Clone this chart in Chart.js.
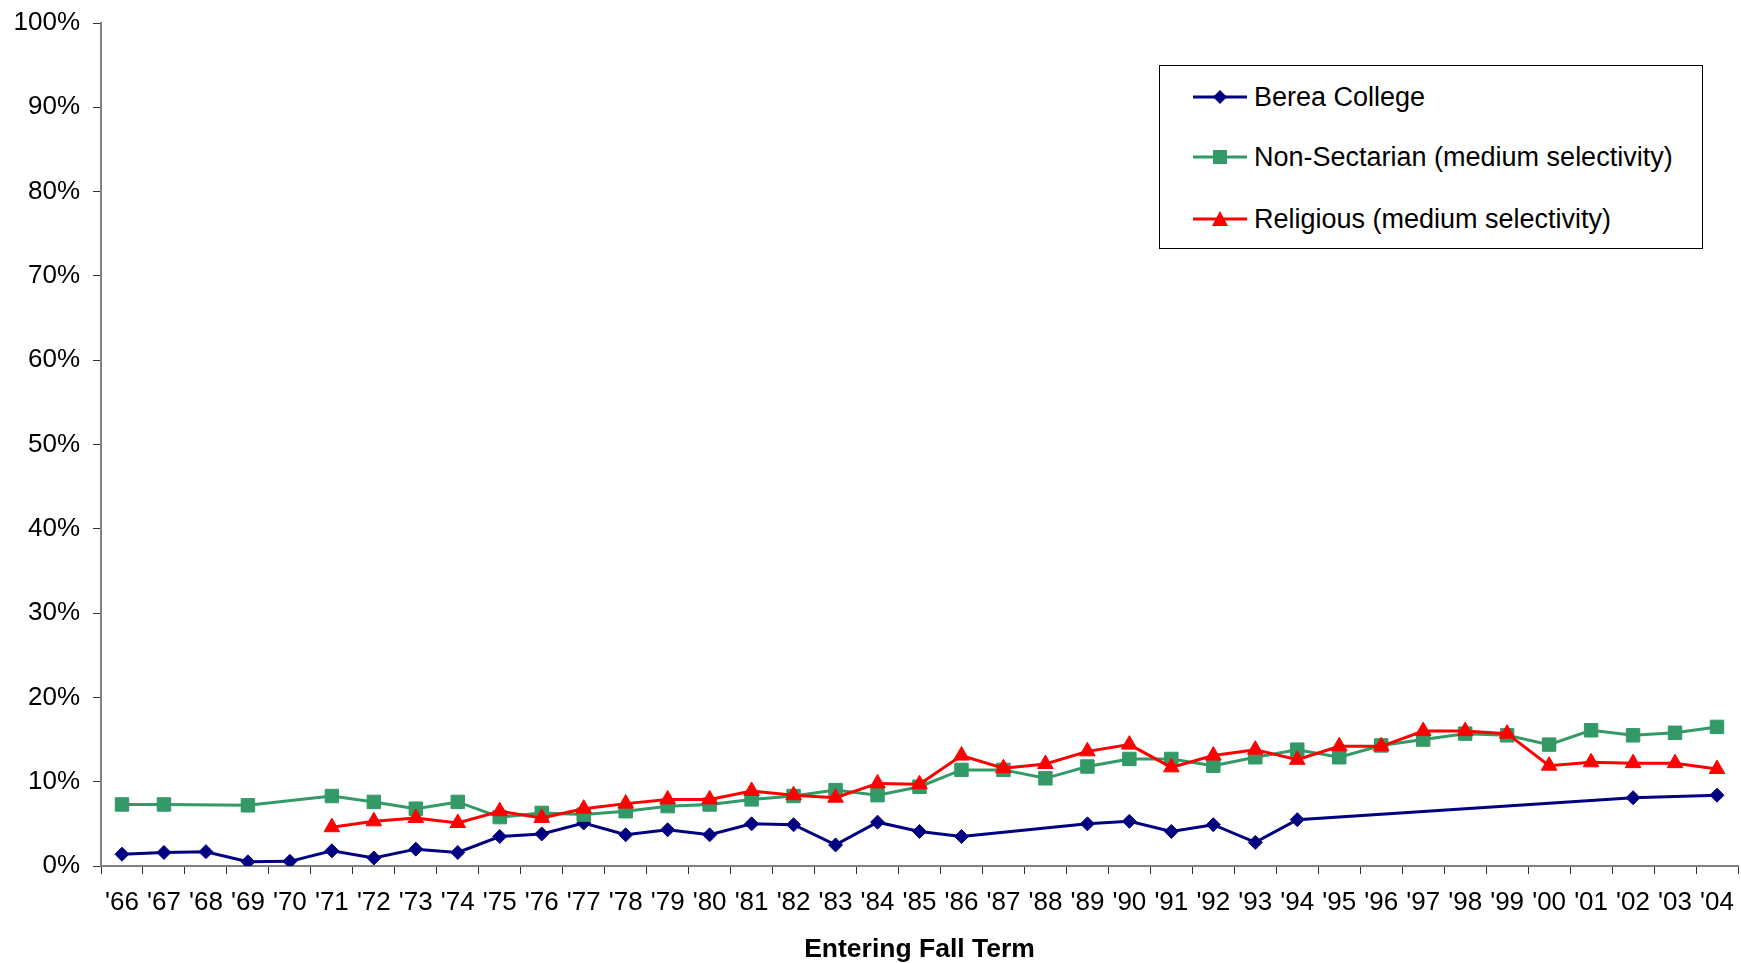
<!DOCTYPE html>
<html>
<head>
<meta charset="utf-8">
<title>Entering Fall Term</title>
<script src="https://cdn.jsdelivr.net/npm/chart.js@4.4.0/dist/chart.umd.min.js"></script>
<style>
  html, body { margin: 0; padding: 0; background: #fff; }
  #wrap { position: relative; width: 1741px; height: 963px; }
  #legend {
    position: absolute; left: 1159px; top: 65px; width: 544px; height: 184px;
    box-sizing: border-box; border: 1px solid #000; background: #fff;
    font-family: 'Liberation Sans', Arial, sans-serif; font-size: 27px; color: #000;
  }
  .row { position: absolute; left: 0; height: 30px; display: flex; align-items: center; white-space: nowrap; }
  .row svg { margin-left: 32px; margin-right: 6px; }
</style>
</head>
<body>
<div id="wrap">
  <canvas id="chart" width="1741" height="963"></canvas>
  <div id="legend">
    <div class="row" style="top:16px">
      <svg width="56" height="30"><line x1="1" y1="15" x2="55" y2="15" stroke="#000080" stroke-width="3"/><polygon points="21,15 28,8 35,15 28,22" fill="#000080"/></svg>
      <span>Berea College</span>
    </div>
    <div class="row" style="top:76px">
      <svg width="56" height="30"><line x1="1" y1="15" x2="55" y2="15" stroke="#339966" stroke-width="3"/><rect x="21" y="8" width="14" height="14" fill="#339966"/></svg>
      <span>Non-Sectarian (medium selectivity)</span>
    </div>
    <div class="row" style="top:138px">
      <svg width="56" height="30"><line x1="1" y1="15" x2="55" y2="15" stroke="#ff0000" stroke-width="3"/><polygon points="28,7 36,22 20,22" fill="#ff0000"/></svg>
      <span>Religious (medium selectivity)</span>
    </div>
  </div>
</div>
<script>
// entering fall term, one label per year
const years = ["'66", "'67", "'68", "'69", "'70", "'71", "'72", "'73", "'74", "'75",
  "'76", "'77", "'78", "'79", "'80", "'81", "'82", "'83", "'84", "'85",
  "'86", "'87", "'88", "'89", "'90", "'91", "'92", "'93", "'94", "'95",
  "'96", "'97", "'98", "'99", "'00", "'01", "'02", "'03", "'04"];

// percentages (null = no value that year)
const bereaPct = [1.4, 1.6, 1.7, 0.5, 0.55, 1.8, 0.95, 2.0, 1.6, 3.5,
  3.8, 5.1, 3.7, 4.3, 3.7, 5.0, 4.9, 2.5, 5.2, 4.1,
  3.5, null, null, 5.0, 5.3, 4.1, 4.9, 2.8, 5.5, null,
  null, null, null, null, null, null, 8.1, null, 8.4];

const nonSectarianPct = [7.3, 7.3, null, 7.2, null, 8.3, 7.6, 6.8, 7.6, 5.8,
  6.3, 6.1, 6.5, 7.1, 7.3, 7.9, 8.3, 9.0, 8.4, 9.4,
  11.4, 11.4, 10.4, 11.8, 12.7, 12.7, 11.9, 12.9, 13.8, 12.9,
  14.3, 15.0, 15.7, 15.5, 14.4, 16.1, 15.5, 15.8, 16.5];

const religiousPct = [null, null, null, null, null, 4.6, 5.3, 5.7, 5.1, 6.5,
  5.7, 6.8, 7.4, 7.9, 7.9, 8.9, 8.4, 8.1, 9.8, 9.7,
  13.1, 11.6, 12.1, 13.6, 14.4, 11.7, 13.1, 13.8, 12.6, 14.2,
  14.2, 16.0, 16.0, 15.7, 11.9, 12.3, 12.2, 12.2, 11.5];

const fontFamily = "'Liberation Sans', Arial, sans-serif";

// build one line series with its marker
function makeSeries(label, values, color, style, radius, order) {
  return {
    label: label,
    data: values,
    borderColor: color,
    backgroundColor: color,
    borderWidth: 3,
    pointStyle: style,
    pointRadius: radius,
    pointBorderWidth: 1,
    pointBorderColor: color,
    pointBackgroundColor: color,
    spanGaps: true,
    tension: 0,
    order: order,
  };
}

const ctx = document.getElementById("chart").getContext("2d");

new Chart(ctx, {
  type: "line",
  data: {
    labels: years,
    datasets: [
      makeSeries("Berea College", bereaPct, "#000080", "rectRot", 7, 2),
      makeSeries("Non-Sectarian (medium selectivity)", nonSectarianPct, "#339966", "rect", 9.5, 1),
      makeSeries("Religious (medium selectivity)", religiousPct, "#ff0000", "triangle", 9, 0),
    ],
  },
  options: {
    responsive: false,
    animation: false,
    layout: { autoPadding: false, padding: { left: 13, top: 23, right: 3, bottom: 0 } },
    plugins: {
      legend: { display: false },
      tooltip: { enabled: false },
    },
    scales: {
      x: {
        offset: true,
        grid: { offset: true, drawOnChartArea: false, tickLength: 8, color: "#333", lineWidth: 1 },
        border: { color: "#808080", width: 2 },
        ticks: {
          font: { family: fontFamily, size: 26 },
          color: "#000",
          padding: 13,
          maxRotation: 0,
          autoSkip: false,
        },
        title: {
          display: true,
          text: "Entering Fall Term",
          color: "#000",
          font: { family: fontFamily, size: 26.5, weight: "bold", lineHeight: 1 },
          padding: { top: 18, bottom: 0 },
        },
        // fixed axis height, no extra side padding for end labels
        afterFit: function (scale) {
          scale.height = 97;
          scale.paddingLeft = 0;
          scale.paddingRight = 0;
        },
      },
      y: {
        min: 0,
        max: 100,
        grid: { drawOnChartArea: false, tickLength: 8, color: "#333", lineWidth: 1 },
        border: { color: "#808080", width: 2 },
        ticks: {
          stepSize: 10,
          font: { family: fontFamily, size: 26 },
          color: "#000",
          padding: 13,
          callback: function (v) { return v + "%"; },
        },
        afterFit: function (scale) {
          scale.width = 88;
          scale.paddingTop = 0;
          scale.paddingBottom = 0;
        },
      },
    },
  },
});
</script>
</body>
</html>
